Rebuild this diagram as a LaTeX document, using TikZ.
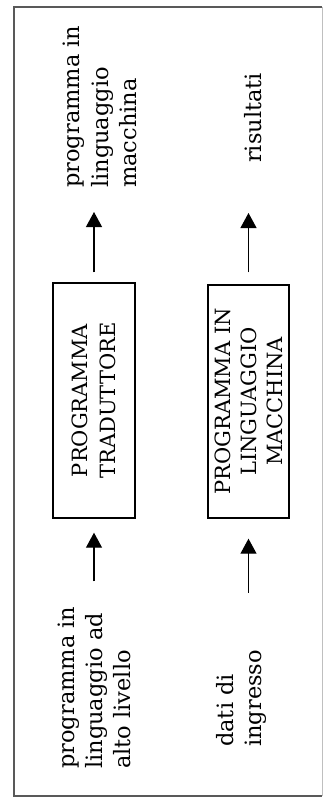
\documentclass[tikz,border=0pt]{standalone}
\usepackage{fontspec}
\newfontfamily\diagfont{DejaVu Serif}
\usetikzlibrary{arrows.meta}
\begin{document}
\begin{tikzpicture}[x=1pt,y=-1pt,
  lbl/.style={rotate=90,anchor=west,align=left,inner sep=0pt,
    font=\diagfont\fontsize{22.5}{28.5}\selectfont},
  box/.style={rotate=90,draw,line width=1.4pt,align=center,inner sep=0pt,
    font=\diagfont\fontsize{21}{28}\selectfont},
  arr/.style={line width=1.2pt,-{Triangle[length=15pt,width=16pt]}},
  frame/.style={draw=black!65,line width=1.3pt},
  faint/.style={draw=black!25,line width=1pt}]
  \useasboundingbox (0,0) rectangle (325,801);

  % outer frame
  \draw[frame] (322,7) -- (14,7) -- (14,796) -- (322,796);
  \draw[faint] (322,7) -- (322,796);

  % processing boxes
  \node[box,minimum width=235pt,minimum height=82pt] (b1) at (94,400.5)
    {PROGRAMMA\\TRADUTTORE};
  \node[box,minimum width=233pt,minimum height=81pt,
    font=\diagfont\fontsize{21}{26}\selectfont] (b2) at (248.5,401.5)
    {PROGRAMMA IN\\LINGUAGGIO\\MACCHINA};

  % outputs
  \node[lbl] (o1) at (100,188) {programma in\\linguaggio\\macchina};
  \node[lbl] (o2) at (253.5,163) {risultati};

  % inputs
  \node[lbl,font=\diagfont\fontsize{22.5}{28}\selectfont] (i1) at (94,769)
    {programma in\\linguaggio ad\\alto livello};
  \node[lbl] (i2) at (241.5,747) {dati di\\ingresso};

  % connectors
  \draw[arr,shorten <=10pt,shorten >=24pt] (b1.east) -- (b1.east |- o1.west);
  \draw[arr,shorten <=12pt,shorten >=50pt] (b2.east) -- (b2.east |- o2.west);
  \draw[arr,shorten <=25pt,shorten >=14pt] (b1.west |- i1.east) -- (b1.west);
  \draw[arr,shorten <=57pt,shorten >=20pt] (b2.west |- i2.east) -- (b2.west);
\end{tikzpicture}
\end{document}
